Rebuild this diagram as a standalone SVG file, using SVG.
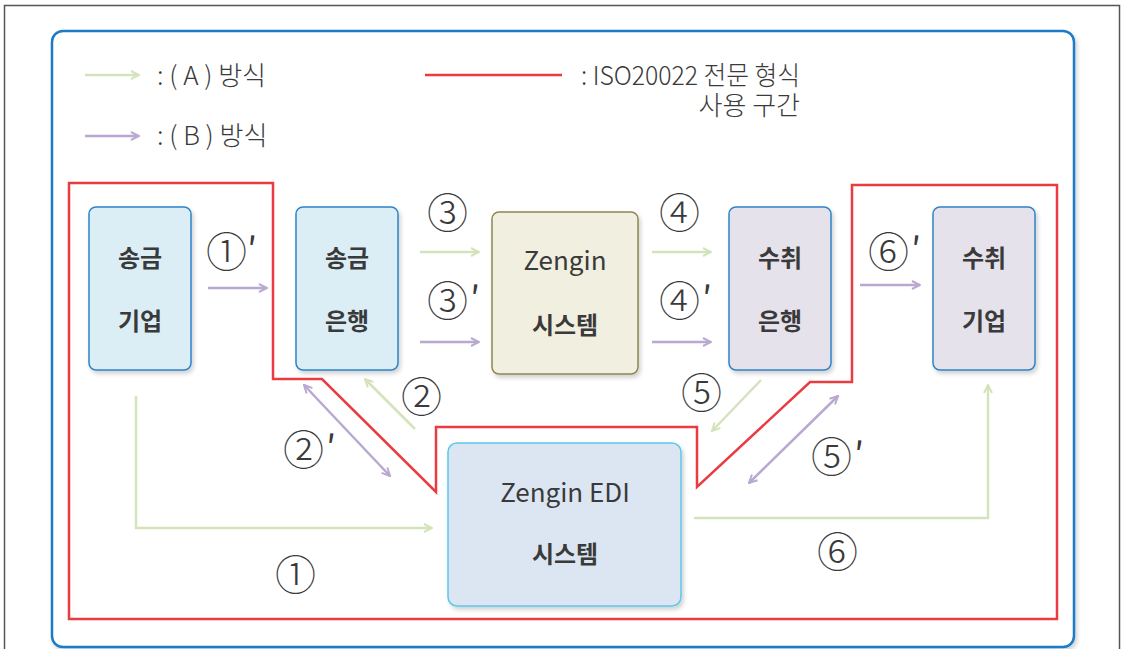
<svg xmlns="http://www.w3.org/2000/svg" width="1125" height="649" viewBox="0 0 1125 649">
<defs>
<style>
.t{font-family:"Noto Sans CJK KR","Liberation Sans",sans-serif;fill:#3a3a3a}
.nb{font-size:24px;font-weight:bold;text-anchor:middle}
.nz{font-size:26px;font-weight:normal;text-anchor:middle}
.lg{font-size:26px;font-weight:300}
.cn{font-size:41px;font-weight:300}
.pr{font-size:36px;font-weight:400}
.g{stroke:#d3e3bb;stroke-width:2.5;fill:none}
.p{stroke:#b9a9d2;stroke-width:2.5;fill:none}
.box{stroke-width:1.5}
</style>
<marker id="ag" viewBox="0 0 10 10" refX="9" refY="5" markerWidth="4" markerHeight="4" orient="auto-start-reverse" markerUnits="strokeWidth">
<path d="M1,1 L9,5 L1,9" fill="none" stroke="#d3e3bb" stroke-width="2"/>
</marker>
<marker id="ap" viewBox="0 0 10 10" refX="9" refY="5" markerWidth="4" markerHeight="4" orient="auto-start-reverse" markerUnits="strokeWidth">
<path d="M1,1 L9,5 L1,9" fill="none" stroke="#b9a9d2" stroke-width="2"/>
</marker>
<filter id="sh" x="-10%" y="-10%" width="130%" height="130%">
<feDropShadow dx="2" dy="3" stdDeviation="2" flood-color="#000" flood-opacity="0.18"/>
</filter>
</defs>
<rect x="0" y="0" width="1125" height="649" fill="#fff"/>
<rect x="4.5" y="5.5" width="1115" height="660" fill="none" stroke="#555" stroke-width="1.5"/>
<rect x="52" y="31" width="1022" height="616" rx="11" fill="#fff" stroke="#1f7ac6" stroke-width="2.5" filter="url(#sh)"/>

<g id="legend">
<line x1="85" y1="75" x2="139" y2="75" class="g" marker-end="url(#ag)"/>
<text x="157" y="85" class="t lg">: ( A ) 방식</text>
<line x1="85" y1="136" x2="139" y2="136" class="p" marker-end="url(#ap)"/>
<text x="157" y="145" class="t lg">: ( B ) 방식</text>
<line x1="425" y1="75" x2="562" y2="75" stroke="#ea3b40" stroke-width="2.5"/>
<text class="t lg" font-size="25"><tspan x="581" y="85" textLength="219" lengthAdjust="spacingAndGlyphs">: ISO20022 전문 형식</tspan><tspan x="800" y="115" text-anchor="end">사용 구간</tspan></text>
</g>

<g id="iso-section">
<polygon points="69,183 273,183 273,379 322,379 436,492 436,427 697,427 697,487 810,382 852,382 852,185 1057,185 1057,619 69,619" fill="none" stroke="#ea3b40" stroke-width="2.5"/>
</g>

<g id="sender-company">
<rect x="89" y="207" width="102" height="163" rx="7" fill="#dbeef6" stroke="#2e83c8" class="box" filter="url(#sh)"/>
<text x="140" y="267" class="t nb">송금</text>
<text x="140" y="330" class="t nb">기업</text>
</g>
<g id="sender-bank">
<rect x="296" y="207" width="102" height="163" rx="7" fill="#dbeef6" stroke="#2e83c8" class="box" filter="url(#sh)"/>
<text x="347" y="267" class="t nb">송금</text>
<text x="347" y="330" class="t nb">은행</text>
</g>
<g id="zengin">
<rect x="492" y="212" width="146" height="162" rx="7" fill="#f1efe0" stroke="#8f8652" class="box" filter="url(#sh)"/>
<text x="565" y="270" class="t nz">Zengin</text>
<text x="565" y="334" class="t nb">시스템</text>
</g>
<g id="receiver-bank">
<rect x="729" y="207" width="102" height="163" rx="7" fill="#e6e2ec" stroke="#2e83c8" class="box" filter="url(#sh)"/>
<text x="780" y="267" class="t nb">수취</text>
<text x="780" y="330" class="t nb">은행</text>
</g>
<g id="receiver-company">
<rect x="933" y="207" width="102" height="163" rx="7" fill="#e6e2ec" stroke="#2e83c8" class="box" filter="url(#sh)"/>
<text x="984" y="267" class="t nb">수취</text>
<text x="984" y="330" class="t nb">기업</text>
</g>
<g id="zengin-edi">
<rect x="448" y="443" width="233" height="163" rx="9" fill="#dce6f2" stroke="#5ec6ec" class="box" filter="url(#sh)"/>
<text x="565" y="502" class="t nz">Zengin EDI</text>
<text x="565" y="563" class="t nb">시스템</text>
</g>

<g id="connectors">
<line x1="208" y1="288" x2="267" y2="288" class="p" marker-end="url(#ap)"/>
<line x1="420" y1="252" x2="479" y2="252" class="g" marker-end="url(#ag)"/>
<line x1="420" y1="342" x2="479" y2="342" class="p" marker-end="url(#ap)"/>
<line x1="652" y1="252" x2="711" y2="252" class="g" marker-end="url(#ag)"/>
<line x1="652" y1="342" x2="711" y2="342" class="p" marker-end="url(#ap)"/>
<line x1="860" y1="285" x2="920" y2="285" class="p" marker-end="url(#ap)"/>
<line x1="415" y1="429" x2="365" y2="379" class="g" marker-end="url(#ag)"/>
<line x1="304" y1="385" x2="390" y2="476" class="p" marker-start="url(#ap)" marker-end="url(#ap)"/>
<polyline points="136,396 136,528 432,528" class="g" marker-end="url(#ag)"/>
<line x1="761" y1="380" x2="712" y2="431" class="g" marker-end="url(#ag)"/>
<line x1="838" y1="396" x2="749" y2="483" class="p" marker-start="url(#ap)" marker-end="url(#ap)"/>
<polyline points="694,518 988,518 988,385" class="g" marker-end="url(#ag)"/>
</g>

<g id="labels">
<text x="206" y="267" class="t cn">①<tspan class="pr" dx="0" dy="-4">′</tspan></text>
<text x="427" y="228" class="t cn">③</text>
<text x="427" y="316" class="t cn">③<tspan class="pr" dx="2" dy="-4">′</tspan></text>
<text x="659" y="228" class="t cn">④</text>
<text x="659" y="316" class="t cn">④<tspan class="pr" dx="2" dy="-4">′</tspan></text>
<text x="868" y="267" class="t cn">⑥<tspan class="pr" dx="2" dy="-4">′</tspan></text>
<text x="401" y="412" class="t cn">②</text>
<text x="283" y="465" class="t cn">②<tspan class="pr" dx="2" dy="-4">′</tspan></text>
<text x="275" y="590" class="t cn">①</text>
<text x="681" y="408" class="t cn">⑤</text>
<text x="811" y="472" class="t cn">⑤<tspan class="pr" dx="2" dy="-4">′</tspan></text>
<text x="817" y="567" class="t cn">⑥</text>
</g>
</svg>
